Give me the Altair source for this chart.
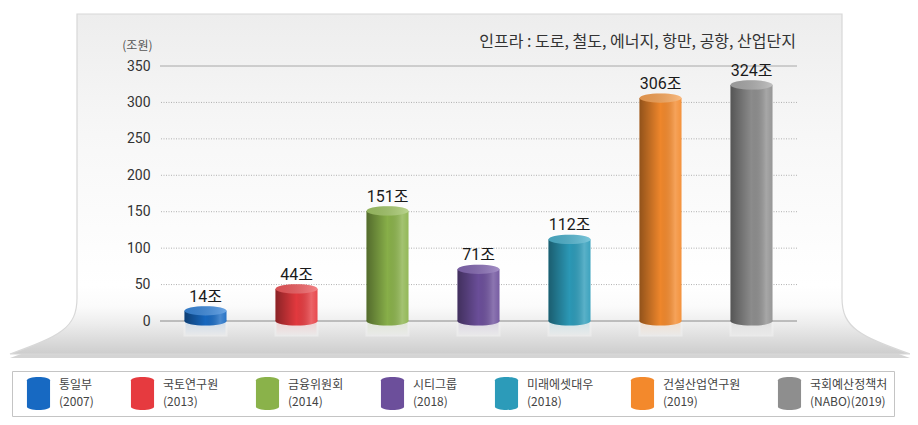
import altair as alt
import pandas as pd

# ---------------- data ----------------
categories = ["통일부", "국토연구원", "금융위원회", "시티그룹", "미래에셋대우", "건설산업연구원", "국회예산정책처"]
years = ["(2007)", "(2013)", "(2014)", "(2018)", "(2018)", "(2019)", "(NABO)(2019)"]
values = [14, 44, 151, 71, 112, 306, 324]
bar_colors = ["#1769c2", "#e63a3f", "#8ab24a", "#6c4f9b", "#2c9bb9", "#f3892c", "#8e8e8e"]
top_colors = ["#3a88dc", "#f05a5e", "#a3c768", "#8569b3", "#4fb4cf", "#f8a456", "#ababab"]
ticks = [0, 50, 100, 150, 200, 250, 300, 350]
unit_label = "(조원)"
note = "인프라 : 도로, 철도, 에너지, 항만, 공항, 산업단지"

keys = [f"{c}|{y}" for c, y in zip(categories, years)]
df = pd.DataFrame({
    "key": keys,
    "val": values,
    "zero": [0] * len(values),
    "col": bar_colors,
    "top": top_colors,
    "label": [f"{v}조" for v in values],
})
grid = pd.DataFrame({"v": ticks})
one = pd.DataFrame({"note": [note]})

# ---------------- styles ----------------
W, H = 637, 255
FONT = "Roboto, Noto Sans CJK KR, sans-serif"
KFONT = "Noto Sans CJK KR, sans-serif"

yscale = alt.Scale(domain=[0, 350], nice=False, zero=True)
yaxis = alt.Axis(values=ticks, grid=False, domain=False, ticks=False, tickSize=0,
                 labelPadding=10, labelFontSize=14, labelColor="#333", labelFont=FONT,
                 title=unit_label, titleAngle=0, titleAlign="right", titleBaseline="middle",
                 titleX=-8, titleY=-21, titleFontSize=12, titleFontWeight="normal",
                 titleColor="#555", titleFont=KFONT, zindex=1)


def yenc(f):
    return alt.Y(f, scale=yscale, axis=yaxis)


xenc = alt.X("key:N", sort=keys, axis=None,
             scale=alt.Scale(domain=keys, paddingInner=0, paddingOuter=0))


def grad(stops, vertical=False):
    return alt.LinearGradient(
        gradient="linear",
        stops=[alt.GradientStop(color=c, offset=o) for o, c in stops],
        x1=0, y1=0, x2=0 if vertical else 1, y2=1 if vertical else 0)


panel_path = ("M-83,-52 L682,-52 L682,232 C682,262 700,270 750,288 "
              "L-150,288 C-100,270 -83,262 -83,232 Z")
ellipse = "M-1,0 A1,0.22 0 1,0 1,0 A1,0.22 0 1,0 -1,0 Z"
refl_shape = "M-1,0 L1,0 L1,0.7 L-1,0.7 Z"
cyl = "M-0.7,-0.8 A0.7,0.2 0 0,1 0.7,-0.8 L0.7,0.8 A0.7,0.2 0 0,1 -0.7,0.8 Z"

panel_grad = grad([(0, "#ededed"), (0.35, "#f7f7f7"), (0.8, "#ffffff"),
                   (0.86, "#fbfbfb"), (0.91, "#ededed"), (1, "#cdcdcd")], vertical=True)
bar_shade = grad([(0, "rgba(0,0,0,0.40)"), (0.5, "rgba(0,0,0,0.02)"),
                  (0.85, "rgba(255,255,255,0.22)"), (1, "rgba(255,255,255,0.08)")])
top_shade = grad([(0, "rgba(0,0,0,0.10)"), (1, "rgba(255,255,255,0.25)")])
refl_fade = grad([(0, "rgba(240,240,240,0.84)"), (1, "rgba(234,234,234,1)")], vertical=True)

# ---------------- layers ----------------
shadow = alt.Chart(one).mark_point(shape=panel_path, size=4, filled=True, opacity=1,
                                   fill="#d4d4d4", strokeWidth=0).encode(
    x=alt.value(0), y=alt.value(4))
panel = alt.Chart(one).mark_point(shape=panel_path, size=4, filled=True, opacity=1,
                                  fill=panel_grad, stroke="#d8d8d8", strokeWidth=1.2).encode(
    x=alt.value(0), y=alt.value(0))

grid_dotted = alt.Chart(grid).transform_filter("datum.v > 0 && datum.v < 350").mark_rule(
    color="#b0b0b0", strokeDash=[1, 1.5], strokeWidth=1).encode(y=yenc("v:Q"))
grid_top = alt.Chart(grid).transform_filter("datum.v == 350").mark_rule(
    color="#a8a8a8", strokeWidth=1).encode(y=yenc("v:Q"))
grid_zero = alt.Chart(grid).transform_filter("datum.v == 0").mark_rule(
    color="#8a8a8a", strokeWidth=1).encode(y=yenc("v:Q"))

# faint reflection of each cylinder below the base line
refl = alt.Chart(df).mark_point(shape=refl_shape, size=1600, filled=True, opacity=1,
                                strokeWidth=0).encode(
    x=xenc, y=yenc("zero:Q"), color=alt.Color("col:N", scale=None))
refl_sh = alt.Chart(df).mark_point(shape=refl_shape, size=1936, filled=True, opacity=1,
                                   fill=refl_fade, strokeWidth=0).encode(
    x=xenc, y=yenc("zero:Q"))

bottom = alt.Chart(df).mark_point(shape=ellipse, size=1764, filled=True, opacity=1,
                                  strokeWidth=0).encode(
    x=xenc, y=yenc("zero:Q"), color=alt.Color("col:N", scale=None))
bottom_sh = alt.Chart(df).mark_point(shape=ellipse, size=1764, filled=True, opacity=1,
                                     fill=bar_shade, strokeWidth=0).encode(
    x=xenc, y=yenc("zero:Q"))

legend = alt.Legend(orient="none", legendX=-148, legendY=305, direction="horizontal",
                    columns=7, title=None, symbolType=cyl, symbolSize=1089,
                    symbolStrokeWidth=0, symbolOpacity=1,
                    labelExpr="split(datum.label, '|')", labelFont=KFONT,
                    labelFontSize=12, labelColor="#444", labelOffset=4, labelLimit=200,
                    labelBaseline="line-bottom",
                    columnPadding=28, padding=6, symbolOffset=4, strokeColor="#c4c4c4",
                    fillColor="#ffffff", zindex=1, gridAlign="each")

bars = alt.Chart(df).mark_bar(size=42, opacity=1).encode(
    x=xenc, y=yenc("val:Q"),
    color=alt.Color("key:N", scale=alt.Scale(domain=keys, range=bar_colors), legend=legend))
bars_sh = alt.Chart(df).mark_bar(size=42, fill=bar_shade).encode(x=xenc, y=yenc("val:Q"))

top = alt.Chart(df).mark_point(shape=ellipse, size=1764, filled=True, opacity=1,
                               strokeWidth=0).encode(
    x=xenc, y=yenc("val:Q"), color=alt.Color("top:N", scale=None))
top_sh = alt.Chart(df).mark_point(shape=ellipse, size=1764, filled=True, opacity=1,
                                  fill=top_shade, strokeWidth=0).encode(
    x=xenc, y=yenc("val:Q"))

labels = alt.Chart(df).mark_text(fontSize=16, font=FONT, color="#1a1a1a", baseline="middle",
                                 dy=-14, fontWeight="normal").encode(
    x=xenc, y=yenc("val:Q"), text="label:N")

note_text = alt.Chart(one).mark_text(align="right", baseline="middle", fontSize=16,
                                     font=KFONT, color="#333").encode(
    x=alt.value(W - 1), y=alt.value(-24), text="note:N")

chart = alt.layer(
    shadow, panel, grid_dotted, grid_top, refl, refl_sh, grid_zero,
    bottom, bottom_sh, bars, bars_sh, top, top_sh, labels, note_text
).properties(
    width=W, height=H,
    autosize=alt.AutoSizeParams(type="none"),
    padding={"left": 152, "top": 58, "right": 113, "bottom": 96},
).configure(
    view=alt.ViewConfig(stroke=None),
    style={"guide-label": {"lineHeight": 17}},
)

chart.save("out.html", embed_options={"renderer": "svg", "actions": False})
